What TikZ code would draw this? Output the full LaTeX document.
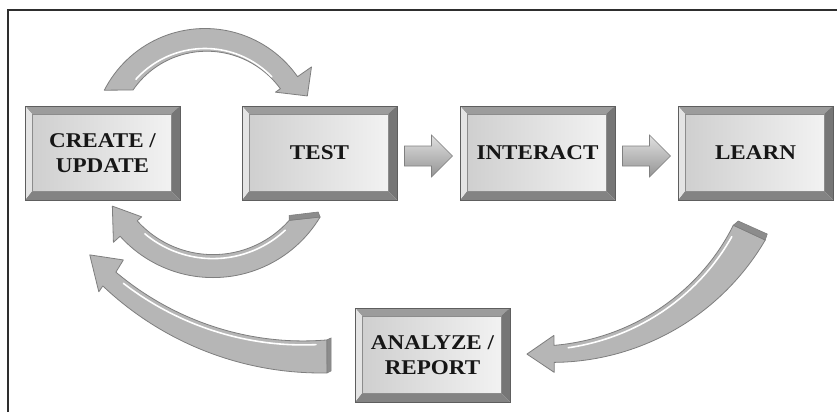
\documentclass[tikz,border=0pt]{standalone}
\usepackage{fontspec}
\usetikzlibrary{calc}

\newfontfamily\stagefont[FakeStretch=1.1]{Liberation Serif}

\definecolor{framecol}{HTML}{2E2E2E}
\definecolor{bevtop}{HTML}{9C9C9C}
\definecolor{bevleft}{HTML}{E4E4E4}
\definecolor{bevright}{HTML}{767676}
\definecolor{bevbot}{HTML}{838383}
\definecolor{facel}{HTML}{CFCFCF}
\definecolor{facer}{HTML}{F2F2F2}
\definecolor{edgecol}{HTML}{5E5E5E}
\definecolor{ribfill}{HTML}{B6B6B6}
\definecolor{ribedge}{HTML}{7E7E7E}
\definecolor{ribface}{HTML}{8C8C8C}
\definecolor{labelcol}{HTML}{161616}

\tikzset{
  stage/.style={rectangle, minimum width=155pt, minimum height=94pt,
    inner sep=0pt, align=center, text=labelcol,
    font=\stagefont\bfseries\fontsize{21}{25}\selectfont,
    draw=edgecol, line width=0.8pt,
    path picture={
      \coordinate (o1) at (path picture bounding box.north west);
      \coordinate (o2) at (path picture bounding box.north east);
      \coordinate (o3) at (path picture bounding box.south east);
      \coordinate (o4) at (path picture bounding box.south west);
      \coordinate (i1) at ([xshift=7pt,yshift=-8pt]path picture bounding box.north west);
      \coordinate (i2) at ([xshift=-9pt,yshift=-8pt]path picture bounding box.north east);
      \coordinate (i3) at ([xshift=-9pt,yshift=9pt]path picture bounding box.south east);
      \coordinate (i4) at ([xshift=7pt,yshift=9pt]path picture bounding box.south west);
      \fill[bevtop] (o1) -- (o2) -- (i2) -- (i1) -- cycle;
      \fill[bevright] (o2) -- (o3) -- (i3) -- (i2) -- cycle;
      \fill[bevbot] (o3) -- (o4) -- (i4) -- (i3) -- cycle;
      \fill[bevleft] (o4) -- (o1) -- (i1) -- (i4) -- cycle;
      \shade[left color=facel, right color=facer] (i1) rectangle (i3);
      \draw[black!45, line width=0.5pt] (i1) rectangle (i3);
    }},
  blockarrow/.style={top color=black!12, bottom color=black!42,
    draw=black!50, line width=0.6pt},
  ribbon/.style={fill=ribfill, draw=ribedge, line width=0.8pt, line join=round},
  ribshine/.style={draw=white, line width=1.6pt, line cap=round},
  ribend/.style={fill=ribface, draw=ribedge, line width=0.6pt}
}

\begin{document}
\begin{tikzpicture}[x=1pt, y=-1pt]
\useasboundingbox (0,0) rectangle (837,412);
\fill[white] (0,0) rectangle (837,412);

% frame lines along the top and the left
\draw[framecol, line width=1.2pt] (8,412) -- (8,10) -- (837,10);

% stage boxes
\node[stage] (create)   at (102.5,153) {CREATE /\\UPDATE};
\node[stage] (test)     at (319.5,153) {TEST};
\node[stage] (interact) at (537.5,153) {INTERACT};
\node[stage] (learn)    at (755.5,153) {LEARN};
\node[stage] (analyze)  at (432.5,355) {ANALYZE /\\REPORT};

% straight block arrows between neighbouring stages
\coordinate (m1) at ($(test.east)!0.5!(interact.west)+(0,3)$);
\coordinate (m2) at ($(interact.east)!0.5!(learn.west)+(0,3)$);
\foreach \m in {m1,m2}{
  \shade[blockarrow] ($(\m)+(-24,-10)$) -- ($(\m)+(3,-10)$) -- ($(\m)+(3,-21)$)
    -- ($(\m)+(24,0)$) -- ($(\m)+(3,21)$) -- ($(\m)+(3,10)$)
    -- ($(\m)+(-24,10)$) -- cycle;
}

% curved ribbon: create -> test (over the top)
\filldraw[ribbon]
  plot[domain=207:325, samples=50] ({205+113*cos(\x)},{141.5+113*sin(\x)})
  -- ({205+130*cos(325)},{141.5+130*sin(325)})
  -- ({205+112*cos(336)},{141.5+112*sin(336)})
  -- ({205+86*cos(325)},{141.5+86*sin(325)})
  -- plot[domain=325:215.6, samples=50]
     ({205+(88.5+3.5*(\x-215.6)/109.4)*cos(\x)},{141.5+(88.5+3.5*(\x-215.6)/109.4)*sin(\x)})
  -- cycle;
\draw[ribshine] plot[domain=222:316, samples=40] ({205+93*cos(\x)},{141.5+93*sin(\x)});

% curved ribbon: test -> create (underneath)
\filldraw[ribbon]
  plot[domain=31:138, samples=50] ({213+125*cos(\x)},{152.6+125*sin(\x)})
  -- ({213+134*cos(138)},{152.6+134*sin(138)})
  -- ({213+114*cos(152)},{152.6+114*sin(152)})
  -- ({213+96*cos(138)},{152.6+96*sin(138)})
  -- plot[domain=138:41.6, samples=50] ({213+102*cos(\x)},{152.6+102*sin(\x)})
  -- cycle;
\draw[ribshine] plot[domain=47:130, samples=40] ({213+106*cos(\x)},{152.6+106*sin(\x)});
\filldraw[ribend] ({213+102*cos(41.6)},{152.6+102*sin(41.6)})
  -- ({213+125*cos(31)},{152.6+125*sin(31)}) -- ++(-2,-5) -- ++(-29,3.5) -- cycle;

% curved ribbon: learn -> analyze
\filldraw[ribbon]
  plot[domain=30.3:89.5, samples=50] ({552+247*cos(\x)},{115.4+247*sin(\x)})
  -- ({552+257*cos(89.5)},{115.4+257*sin(89.5)})
  -- ({552+240*cos(96)},{115.4+240*sin(96)})
  -- ({552+220*cos(89.5)},{115.4+220*sin(89.5)})
  -- plot[domain=89.5:31.2, samples=50]
     ({552+(212+18*(\x-31.2)/58.3)*cos(\x)},{115.4+(212+18*(\x-31.2)/58.3)*sin(\x)})
  -- cycle;
\draw[ribshine] plot[domain=34:86, samples=40]
  ({552+(216+18*(\x-31.2)/58.3)*cos(\x)},{115.4+(216+18*(\x-31.2)/58.3)*sin(\x)});
\filldraw[ribend] ({552+212*cos(31.2)},{115.4+212*sin(31.2)})
  -- ({552+247*cos(30.3)},{115.4+247*sin(30.3)}) -- ++(2,-6) -- ++(-29,-13) -- cycle;

% curved ribbon: analyze -> create
\filldraw[ribbon]
  plot[domain=88.9:133.5, samples=50] ({321+317*cos(\x)},{56+317*sin(\x)})
  -- ({321+324*cos(133.3)},{56+324*sin(133.3)})
  -- ({321+305*cos(139.3)},{56+305*sin(139.3)})
  -- ({321+284*cos(134.1)},{56+284*sin(134.1)})
  -- plot[domain=133.5:88.8, samples=50]
     ({321+(284+14*(\x-88.8)/44.7)*cos(\x)},{56+(284+14*(\x-88.8)/44.7)*sin(\x)})
  -- cycle;
\draw[ribshine] plot[domain=91:131, samples=40]
  ({321+(288+14*(\x-88.8)/44.7)*cos(\x)},{56+(288+14*(\x-88.8)/44.7)*sin(\x)});
\filldraw[ribend] ({321+284*cos(88.8)},{56+284*sin(88.8)})
  -- ({321+317*cos(88.9)},{56+317*sin(88.9)}) -- ++(4,-2) -- ++(0,-33) -- cycle;

\end{tikzpicture}
\end{document}
